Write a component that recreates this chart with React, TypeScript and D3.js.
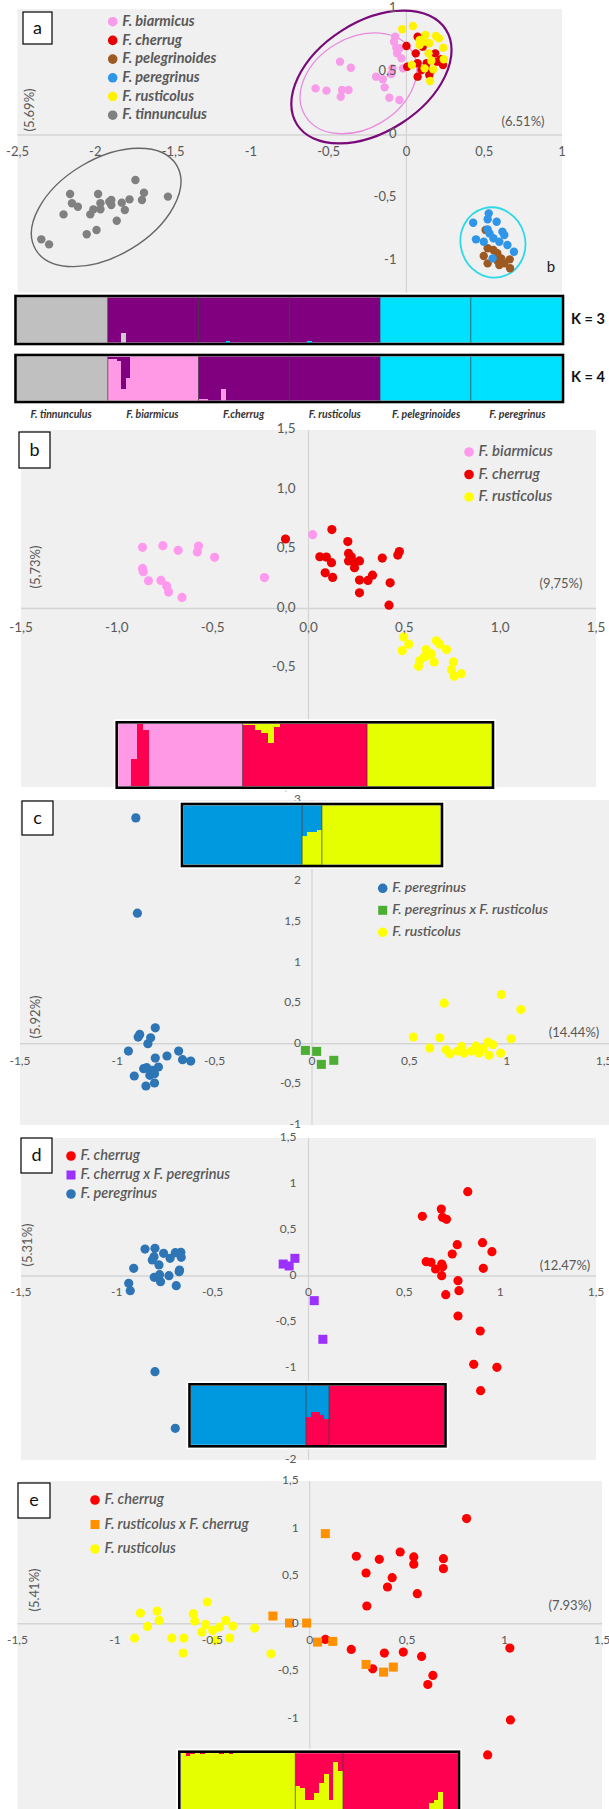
import React from "react";
import * as d3 from "d3";

type Pt = [number, number];

// ---------- panel a : six species ----------
const aBiarmicus: Pt[] = [
  [-0.072, 0.78], [-0.08, 0.74], [-0.065, 0.693], [-0.06, 0.648], [-0.045, 0.688], [-0.427, 0.582],
  [-0.357, 0.534], [-0.584, 0.37], [-0.514, 0.352], [-0.414, 0.357], [-0.372, 0.357], [-0.422, 0.304],
  [-0.195, 0.463], [-0.152, 0.442], [-0.097, 0.484], [-0.09, 0.529], [-0.14, 0.378], [-0.11, 0.296],
  [-0.045, 0.278], [-0.022, 0.529], [-0.032, 0.608],
];
const aCherrug: Pt[] = [
  [0, 0.706], [0.072, 0.78], [0.105, 0.701], [0.06, 0.648], [0.005, 0.542], [0.072, 0.569],
  [0.097, 0.516], [0.072, 0.463], [0.185, 0.648], [0.197, 0.582], [0.222, 0.601], [0.147, 0.476],
  [0.16, 0.511], [0.235, 0.556], [0.13, 0.569],
];
const aPelegrinoides: Pt[] = [
  [0.509, -0.754], [0.522, -0.899], [0.497, -0.96], [0.522, -1.019], [0.584, -0.939], [0.609, -0.979],
  [0.629, -1.019], [0.597, -1.032], [0.664, -0.987], [0.666, -1.058], [0.584, -0.997], [0.559, -0.913],
];
const aPeregrinus: Pt[] = [
  [0.529, -0.622], [0.522, -0.669], [0.58, -0.688], [0.429, -0.696], [0.522, -0.749], [0.617, -0.767],
  [0.629, -0.794], [0.447, -0.828], [0.497, -0.847], [0.559, -0.82], [0.597, -0.847], [0.649, -0.873],
  [0.691, -0.926], [0.554, -0.979], [0.534, -0.781],
];
const aRusticolus: Pt[] = [
  [0.042, 0.865], [-0.027, 0.839], [0.085, 0.754], [0.122, 0.794], [0.147, 0.728], [0.19, 0.786],
  [0.21, 0.767], [0.237, 0.693], [0.142, 0.648], [0.16, 0.59], [0.24, 0.601], [0.035, 0.556],
  [0.117, 0.529], [0.172, 0.521], [0.152, 0.429], [0.085, 0.714], [0.117, 0.741],
];
const aTinnunculus: Pt[] = [
  [-1.742, -0.357], [-1.687, -0.458], [-1.7, -0.516], [-1.533, -0.489], [-2.162, -0.468], [-2.15, -0.542],
  [-2.112, -0.569], [-2.204, -0.63], [-1.982, -0.468], [-1.967, -0.542], [-2.012, -0.59], [-2.032, -0.63],
  [-1.967, -0.59], [-1.897, -0.516], [-1.897, -0.556], [-1.83, -0.537], [-1.81, -0.595], [-1.78, -0.511],
  [-1.862, -0.68], [-1.992, -0.754], [-2.055, -0.788], [-2.347, -0.828], [-2.297, -0.868], [-1.91, -0.529],
];
// ellipses: centre, half extents (data units), tilt of major axis (deg)
const aEllipses = [
  { cx: -0.225, cy: 0.46, hx: 0.515, hy: 0.527, angle: 32.5, color: "#7a0a7a", width: 2.2 },
  { cx: -0.308, cy: 0.41, hx: 0.375, hy: 0.4, angle: 31, color: "#e88ae0", width: 1.3 },
  { cx: -1.93, cy: -0.575, hx: 0.48, hy: 0.47, angle: 31, color: "#666666", width: 1.4 },
  { cx: 0.556, cy: -0.853, hx: 0.209, hy: 0.279, angle: -75, color: "#2fd8e6", width: 1.8 },
];
const aXTicks = [-2.5, -2, -1.5, -1, -0.5, 0, 0.5, 1];
const aYTicks = [-1, -0.5, 0, 0.5, 1];
const barSpecies = ["F. tinnunculus", "F. biarmicus", "F.cherrug", "F. rusticolus", "F. pelegrinoides", "F. peregrinus"];

// ---------- panel b ----------
const bBiarmicus: Pt[] = [
  [-0.866, 0.514], [-0.76, 0.528], [-0.68, 0.489], [-0.574, 0.525], [-0.58, 0.475], [-0.49, 0.43],
  [-0.866, 0.337], [-0.862, 0.309], [-0.835, 0.233], [-0.77, 0.236], [-0.74, 0.19], [-0.73, 0.138],
  [-0.66, 0.093], [-0.23, 0.26], [0.022, 0.62],
];
const bCherrug: Pt[] = [
  [-0.12, 0.584], [0.122, 0.663], [0.059, 0.435], [0.093, 0.432], [0.12, 0.385], [0.087, 0.3],
  [0.126, 0.261], [0.205, 0.562], [0.209, 0.463], [0.223, 0.435], [0.209, 0.4], [0.24, 0.385],
  [0.266, 0.4], [0.24, 0.343], [0.266, 0.239], [0.31, 0.236], [0.334, 0.28], [0.266, 0.132],
  [0.385, 0.424], [0.426, 0.216], [0.42, 0.028], [0.466, 0.449], [0.474, 0.478],
];
const bRusticolus: Pt[] = [
  [0.497, -0.239], [0.523, -0.3], [0.489, -0.354], [0.58, -0.44], [0.574, -0.486], [0.614, -0.345],
  [0.62, -0.393], [0.655, -0.449], [0.667, -0.272], [0.685, -0.3], [0.72, -0.345], [0.756, -0.449],
  [0.746, -0.514], [0.76, -0.57], [0.797, -0.548], [0.604, -0.407], [0.64, -0.38],
];
const bTicks = [-1.5, -1, -0.5, 0, 0.5, 1, 1.5];

// ---------- panel c ----------
const cPeregrinus: Pt[] = [
  [-0.905, 2.78], [-0.897, 1.607], [-0.805, 0.196], [-0.885, 0.115], [-0.893, 0.082], [-0.829, 0.074],
  [-0.843, 0.0], [-0.943, -0.09], [-0.685, -0.09], [-0.745, -0.151], [-0.805, -0.176], [-0.665, -0.196],
  [-0.623, -0.213], [-0.849, -0.294], [-0.789, -0.286], [-0.819, -0.327], [-0.809, -0.368], [-0.833, -0.389],
  [-0.913, -0.397], [-0.809, -0.483], [-0.853, -0.52], [-0.865, -0.307],
];
const cHybrid: Pt[] = [[-0.034, -0.082], [0.024, -0.094], [0.048, -0.254], [0.112, -0.204]];
const cRusticolus: Pt[] = [
  [0.679, 0.499], [0.973, 0.605], [1.073, 0.421], [0.521, 0.082], [0.657, 0.074], [1.023, 0.061],
  [0.605, -0.053], [0.689, -0.074], [0.709, -0.123], [0.769, -0.033], [0.781, -0.115], [0.843, -0.029],
  [0.859, -0.115], [0.905, 0.02], [0.929, -0.012], [0.909, -0.143], [0.969, -0.115], [0.879, -0.061],
  [0.749, -0.09], [0.819, -0.09],
];
const cXTicks = [-1.5, -1, -0.5, 0, 0.5, 1, 1.5];
const cYTicks = [-1, -0.5, 0, 0.5, 1, 1.5, 2, 2.5, 3];

// ---------- panel d ----------
const dCherrug: Pt[] = [
  [0.831, 0.917], [0.594, 0.649], [0.693, 0.728], [0.699, 0.638], [0.72, 0.616], [0.776, 0.341],
  [0.75, 0.239], [0.908, 0.362], [0.957, 0.264], [0.614, 0.156], [0.639, 0.149], [0.695, 0.13],
  [0.663, 0.076], [0.695, 0.004], [0.912, 0.083], [0.78, -0.051], [0.785, -0.159], [0.716, -0.203],
  [0.78, -0.435], [0.896, -0.598], [0.862, -0.96], [0.983, -0.993], [0.898, -1.246], [0.7, 0.1],
];
const dHybrid: Pt[] = [[-0.132, 0.13], [-0.101, 0.109], [-0.071, 0.192], [0.03, -0.268], [0.075, -0.688]];
const dPeregrinus: Pt[] = [
  [-0.853, 0.293], [-0.801, 0.301], [-0.756, 0.246], [-0.806, 0.21], [-0.815, 0.174], [-0.78, 0.12],
  [-0.722, 0.192], [-0.695, 0.254], [-0.666, 0.257], [-0.664, 0.203], [-0.912, 0.083], [-0.673, 0.065],
  [-0.675, 0.047], [-0.805, -0.014], [-0.777, 0.014], [-0.728, 0.004], [-0.772, -0.062], [-0.938, -0.08],
  [-0.93, -0.159], [-0.69, -0.105], [-0.801, -1.04], [-0.695, -1.656],
];
const dYTicks = [-2, -1.5, -1, -0.5, 0, 0.5, 1, 1.5];

// ---------- panel e ----------
const eCherrug: Pt[] = [
  [0.805, 1.105], [0.239, 0.709], [0.357, 0.677], [0.464, 0.754], [0.534, 0.702], [0.534, 0.625],
  [0.686, 0.684], [0.686, 0.579], [0.289, 0.533], [0.423, 0.484], [0.399, 0.386], [0.552, 0.316],
  [0.293, 0.186], [0.08, -0.165], [0.213, -0.27], [0.383, -0.309], [0.48, -0.298], [0.574, -0.344],
  [0.323, -0.474], [0.632, -0.544], [0.606, -0.639], [1.027, -0.256], [1.03, -1.011], [0.913, -1.379],
];
const eHybrid: Pt[] = [
  [0.08, 0.947], [-0.189, 0.081], [-0.104, 0.007], [-0.016, 0.007], [0.04, -0.193], [0.118, -0.186],
  [0.289, -0.428], [0.379, -0.509], [0.429, -0.456],
];
const eRusticolus: Pt[] = [
  [-0.869, 0.112], [-0.783, 0.133], [-0.833, -0.028], [-0.773, 0.035], [-0.899, -0.151], [-0.708, -0.151],
  [-0.646, -0.151], [-0.65, -0.309], [-0.598, 0.105], [-0.59, 0.028], [-0.526, 0.228], [-0.534, -0.007],
  [-0.554, -0.088], [-0.498, -0.07], [-0.464, -0.035], [-0.431, 0.035], [-0.395, -0.025], [-0.411, -0.151],
  [-0.484, -0.175], [-0.283, -0.046], [-0.199, -0.316],
];
const eYTicks = [-1.5, -1, -0.5, 0, 0.5, 1, 1.5];

// ---------- structure (admixture) bars: share of second cluster per individual ----------
const k3Mix = { biarmicusGrey: [0, 0, 0, 0.22], cherrugCyan: [0, 0, 0, 0, 0, 0, 0.04], rusticolusCyan: [0, 0, 0, 0, 0.04] };
const k4Mix = { biarmicusPurple: [0.05, 0.05, 0.1, 0.74, 0.48, 0.02], cherrugPink: [0.03, 0.03, 0, 0, 0, 0.27] };
const bBarBiarmicusRed = [0, 0, 0.43, 0.99, 0.9];
const bBarCherrugYellow = [0.02, 0.02, 0.1, 0.14, 0.3, 0.05];
const cBarHybridYellow = [0.49, 0.55, 0.55, 0.58];
const dBarHybridRed = [0.47, 0.56, 0.56, 0.5, 0.44];
const eBarRusticolusRed = [0, 0.05, 0.02, 0, 0.02, 0, 0, 0, 0.02, 0, 0.02];
const eBarHybridYellow = [0.44, 0.41, 0.2, 0.2, 0.32, 0.49, 0.64, 0.2, 0.85, 0.7];
const eBarCherrugYellow = [0, 0, 0.05, 0.05, 0.06, 0.04, 0.05, 0.04, 0.05, 0.06, 0.05, 0.04, 0, 0, 0, 0, 0, 0.05, 0.15, 0.2, 0.35];

const FONT = "Lato, 'Open Sans', sans-serif";
const GREY_TXT = "#595959";

type Series = { name: string; color: string; shape: "circle" | "square"; pts: Pt[] };
type Group = { n: number; base: string; other?: string; mix?: number[]; fromTop?: boolean };
type BarSpec = { x: number; y: number; w: number; h: number; groups: Group[] };
type Ell = { cx: number; cy: number; hx: number; hy: number; angle: number; color: string; width: number };

const commaFmt = (v: number) => String(v).replace(".", ",");
const comma1Fmt = (v: number) => v.toFixed(1).replace(".", ",");

function StructureBar({ x, y, w, h, groups }: BarSpec) {
  const total = d3.sum(groups, (g) => g.n);
  const xs = d3.scaleLinear().domain([0, total]).range([x + 1.5, x + w - 1.5]);
  const ys = d3.scaleLinear().domain([0, 1]).range([y + h - 1.5, y + 1.5]);
  const bases: JSX.Element[] = [];
  const overlays: JSX.Element[] = [];
  const dividers: number[] = [];
  let k = 0;
  groups.forEach((g, gi) => {
    const g0 = xs(k);
    const g1 = xs(k + g.n);
    if (gi > 0) dividers.push(g0);
    bases.push(<rect key={`g${gi}`} x={g0} y={ys(1)} width={g1 - g0 + 0.3} height={ys(0) - ys(1)} fill={g.base} />);
    for (let i = 0; i < g.n; i++, k++) {
      const f = g.mix && g.mix[i] ? g.mix[i] : 0;
      if (f > 0 && g.other) {
        const x0 = xs(k);
        overlays.push(
          <rect
            key={`o${k}`}
            x={x0}
            y={g.fromTop ? ys(1) : ys(f)}
            width={xs(k + 1) - x0}
            height={ys(0) - ys(f)}
            fill={g.other}
          />
        );
      }
    }
  });
  return (
    <g>
      <rect x={x - 3} y={y - 3} width={w + 6} height={h + 6} fill="#ffffff" />
      {bases}
      <g shapeRendering="crispEdges">{overlays}</g>
      {dividers.map((d, i) => (
        <line key={i} x1={d} x2={d} y1={y + 1.5} y2={y + h - 1.5} stroke="#3a3a3a" strokeWidth={0.7} />
      ))}
      <rect x={x} y={y} width={w} height={h} fill="none" stroke="#000" strokeWidth={2.6} />
    </g>
  );
}

type PanelProps = {
  xDomain: [number, number]; xRange: [number, number];
  yDomain: [number, number]; yRange: [number, number];
  bgRight?: number;
  xTicks: number[]; yTicks: number[]; fmt: (v: number) => string;
  tickSize: number; xLabelDy: number; yLabelDx: number;
  series: Series[]; r: number;
  legend: { x: number; y: number; dy: number; size: number; weight: number };
  tag: { letter: string; x: number; y: number; w: number; h: number };
  yTitle: { text: string; x: number; y: number };
  xTitle: { text: string; x: number; y: number };
  ellipses?: Ell[];
  bars?: BarSpec[];
};

function Panel(p: PanelProps) {
  const x = d3.scaleLinear().domain(p.xDomain).range(p.xRange);
  const y = d3.scaleLinear().domain(p.yDomain).range(p.yRange);
  const left = p.xRange[0];
  const right = p.bgRight ?? p.xRange[1];
  const top = Math.min(...p.yRange);
  const bottom = Math.max(...p.yRange);
  // semi-axes of a tilted ellipse whose bounding box matches the half extents
  const axes = (e: Ell) => {
    const W = Math.abs(x(e.hx) - x(0));
    const H = Math.abs(y(e.hy) - y(0));
    const t = (e.angle * Math.PI) / 180;
    const c2 = Math.cos(t) ** 2;
    const s2 = Math.sin(t) ** 2;
    const a = Math.sqrt(Math.max(1, (W * W * c2 - H * H * s2) / (c2 - s2)));
    const b = Math.sqrt(Math.max(1, (H * H * c2 - W * W * s2) / (c2 - s2)));
    return { a, b };
  };
  const half = p.r * 0.98;
  return (
    <g fontFamily={FONT}>
      <rect x={left} y={top} width={right - left} height={bottom - top} fill="#f0f0f0" />
      <line x1={left} x2={right} y1={y(0)} y2={y(0)} stroke="#d4d4d4" strokeWidth={1.4} />
      <line x1={x(0)} x2={x(0)} y1={top} y2={bottom} stroke="#d4d4d4" strokeWidth={1.2} />
      {(p.ellipses || []).map((e, i) => {
        const { a, b } = axes(e);
        return (
          <ellipse
            key={i}
            transform={`translate(${x(e.cx)},${y(e.cy)}) rotate(${-e.angle})`}
            rx={a}
            ry={b}
            fill="none"
            stroke={e.color}
            strokeWidth={e.width}
          />
        );
      })}
      {p.series.map((s, si) => (
        <g key={si} fill={s.color}>
          {s.pts.map((d, i) =>
            s.shape === "circle" ? (
              <circle key={i} cx={x(d[0])} cy={y(d[1])} r={p.r} />
            ) : (
              <rect key={i} x={x(d[0]) - half} y={y(d[1]) - half} width={half * 2} height={half * 2} />
            )
          )}
        </g>
      ))}
      <g fill={GREY_TXT} fontSize={p.tickSize}>
        {p.xTicks.map((t) => (
          <text key={`x${t}`} x={x(t)} y={y(0) + p.xLabelDy} textAnchor="middle" dominantBaseline="middle">
            {p.fmt(t)}
          </text>
        ))}
        {p.yTicks.map((t) => (
          <text key={`y${t}`} x={x(0) - p.yLabelDx} y={y(t)} textAnchor="end" dominantBaseline="middle">
            {p.fmt(t)}
          </text>
        ))}
      </g>
      <g fontSize={p.legend.size} fontStyle="italic" fontWeight={p.legend.weight} fill={GREY_TXT}>
        {p.series.map((s, i) => {
          const ly = p.legend.y + i * p.legend.dy;
          return (
            <g key={i}>
              {s.shape === "circle" ? (
                <circle cx={p.legend.x} cy={ly} r={4.8} fill={s.color} />
              ) : (
                <rect x={p.legend.x - 4.5} y={ly - 4.5} width={9} height={9} fill={s.color} />
              )}
              <text x={p.legend.x + 9.5} y={ly + 0.5} dominantBaseline="middle">
                {s.name}
              </text>
            </g>
          );
        })}
      </g>
      <rect x={p.tag.x} y={p.tag.y} width={p.tag.w} height={p.tag.h} fill="#fff" stroke="#000" strokeWidth={1.2} />
      <text
        x={p.tag.x + p.tag.w / 2}
        y={p.tag.y + p.tag.h / 2 + 1}
        textAnchor="middle"
        dominantBaseline="middle"
        fontSize={18}
        fill="#111"
      >
        {p.tag.letter}
      </text>
      <text
        transform={`translate(${p.yTitle.x},${p.yTitle.y}) rotate(-90)`}
        textAnchor="middle"
        dominantBaseline="middle"
        fontSize={13}
        fill={GREY_TXT}
      >
        {p.yTitle.text}
      </text>
      <text x={p.xTitle.x} y={p.xTitle.y} textAnchor="middle" dominantBaseline="middle" fontSize={13} fill={GREY_TXT}>
        {p.xTitle.text}
      </text>
      {(p.bars || []).map((b, i) => (
        <StructureBar key={i} {...b} />
      ))}
    </g>
  );
}

const PINK = "#ff99e6";
const PURPLE = "#800080";
const CYAN = "#00e1ff";
const BAR_GREY = "#c0c0c0";
const BAR_RED = "#ff0050";
const BAR_YEL = "#e6ff00";
const BAR_BLUE = "#0098de";

export default function App() {
  const k3: Group[] = [
    { n: 20, base: BAR_GREY },
    { n: 20, base: PURPLE, other: "#cccccc", mix: k3Mix.biarmicusGrey },
    { n: 20, base: PURPLE, other: CYAN, mix: k3Mix.cherrugCyan },
    { n: 20, base: PURPLE, other: CYAN, mix: k3Mix.rusticolusCyan },
    { n: 20, base: CYAN },
    { n: 20, base: CYAN },
  ];
  const k4: Group[] = [
    { n: 20, base: BAR_GREY },
    { n: 20, base: PINK, other: PURPLE, mix: k4Mix.biarmicusPurple, fromTop: true },
    { n: 20, base: PURPLE, other: PINK, mix: k4Mix.cherrugPink },
    { n: 20, base: PURPLE },
    { n: 20, base: CYAN },
    { n: 20, base: CYAN },
  ];
  const k3Bar: BarSpec = { x: 15.5, y: 296, w: 547.5, h: 48, groups: k3 };
  const k4Bar: BarSpec = { x: 15.5, y: 355, w: 547.5, h: 47, groups: k4 };
  const groupScale = d3.scaleLinear().domain([0, barSpecies.length]).range([k4Bar.x, k4Bar.x + k4Bar.w]);

  return (
    <svg
      width={609}
      height={1809}
      style={{ position: "absolute", left: 0, top: 0, background: "#fff" }}
      fontFamily={FONT}
    >
      <rect x={0} y={0} width={609} height={1809} fill="#fff" />
      {/* panel a */}
      <Panel
        xDomain={[-2.5, 1]} xRange={[17.5, 562]}
        yDomain={[-1.25, 1]} yRange={[292.5, 9]}
        xTicks={aXTicks} yTicks={aYTicks} fmt={commaFmt}
        tickSize={13} xLabelDy={18} yLabelDx={10}
        r={4.2}
        series={[
          { name: "F. biarmicus", color: "#f79ce9", shape: "circle", pts: aBiarmicus },
          { name: "F. cherrug", color: "#e60000", shape: "circle", pts: aCherrug },
          { name: "F. pelegrinoides", color: "#9c5a22", shape: "circle", pts: aPelegrinoides },
          { name: "F. peregrinus", color: "#2f95e8", shape: "circle", pts: aPeregrinus },
          { name: "F. rusticolus", color: "#fff200", shape: "circle", pts: aRusticolus },
          { name: "F. tinnunculus", color: "#808080", shape: "circle", pts: aTinnunculus },
        ]}
        legend={{ x: 112.7, y: 21.7, dy: 18.7, size: 14.5, weight: 700 }}
        tag={{ letter: "a", x: 23, y: 12, w: 29, h: 32 }}
        yTitle={{ text: "(5.69%)", x: 31, y: 110 }}
        xTitle={{ text: "(6.51%)", x: 523, y: 123 }}
        ellipses={aEllipses}
        bars={[k3Bar, k4Bar]}
      />
      <text x={551} y={268} textAnchor="middle" dominantBaseline="middle" fontSize={15} fill="#222">
        b
      </text>
      <g fontSize={14.5} fontWeight={700} fill="#111">
        <text x={571} y={k3Bar.y + k3Bar.h / 2} dominantBaseline="middle">K = 3</text>
        <text x={571} y={k4Bar.y + k4Bar.h / 2} dominantBaseline="middle">K = 4</text>
      </g>
      <g fontSize={10.5} fontWeight={700} fontStyle="italic" fill="#333">
        {barSpecies.map((s, i) => (
          <text key={s} x={groupScale(i + 0.5)} y={415} textAnchor="middle" dominantBaseline="middle">
            {s}
          </text>
        ))}
      </g>

      {/* panel b */}
      <Panel
        xDomain={[-1.5, 1.5]} xRange={[21, 596]}
        yDomain={[-1.5, 1.5]} yRange={[787, 430]}
        xTicks={bTicks} yTicks={bTicks} fmt={comma1Fmt}
        tickSize={13.5} xLabelDy={20} yLabelDx={13}
        r={4.6}
        series={[
          { name: "F. biarmicus", color: "#ff99ee", shape: "circle", pts: bBiarmicus },
          { name: "F. cherrug", color: "#ee0000", shape: "circle", pts: bCherrug },
          { name: "F. rusticolus", color: "#ffff00", shape: "circle", pts: bRusticolus },
        ]}
        legend={{ x: 469, y: 452, dy: 22.5, size: 15, weight: 600 }}
        tag={{ letter: "b", x: 19, y: 432, w: 31, h: 36 }}
        yTitle={{ text: "(5,73%)", x: 37, y: 567 }}
        xTitle={{ text: "(9,75%)", x: 561, y: 585 }}
        bars={[
          {
            x: 116.7, y: 722.3, w: 376.3, h: 65.4,
            groups: [
              { n: 20, base: PINK, other: BAR_RED, mix: bBarBiarmicusRed },
              { n: 20, base: BAR_RED, other: BAR_YEL, mix: bBarCherrugYellow, fromTop: true },
              { n: 20, base: BAR_YEL },
            ],
          },
        ]}
      />

      {/* panel c */}
      <Panel
        xDomain={[-1.5, 1.5]} xRange={[20, 604]}
        yDomain={[-1, 3]} yRange={[1125, 800]}
        bgRight={609}
        xTicks={cXTicks} yTicks={cYTicks} fmt={commaFmt}
        tickSize={12} xLabelDy={18} yLabelDx={11}
        r={4.6}
        series={[
          { name: "F. peregrinus", color: "#2e75b6", shape: "circle", pts: cPeregrinus },
          { name: "F. peregrinus x F. rusticolus", color: "#4caf34", shape: "square", pts: cHybrid },
          { name: "F. rusticolus", color: "#ffff00", shape: "circle", pts: cRusticolus },
        ]}
        legend={{ x: 382.7, y: 888.3, dy: 22, size: 14, weight: 600 }}
        tag={{ letter: "c", x: 22, y: 801, w: 31, h: 34 }}
        yTitle={{ text: "(5.92%)", x: 37, y: 1017 }}
        xTitle={{ text: "(14.44%)", x: 574, y: 1034 }}
        bars={[
          {
            x: 182, y: 804, w: 260, h: 62,
            groups: [
              { n: 24, base: BAR_BLUE },
              { n: 4, base: BAR_BLUE, other: BAR_YEL, mix: cBarHybridYellow },
              { n: 24, base: BAR_YEL },
            ],
          },
        ]}
      />

      {/* panel d */}
      <Panel
        xDomain={[-1.5, 1.5]} xRange={[21, 596]}
        yDomain={[-2, 1.5]} yRange={[1460, 1138]}
        xTicks={cXTicks} yTicks={dYTicks} fmt={commaFmt}
        tickSize={12} xLabelDy={17} yLabelDx={12}
        r={4.6}
        series={[
          { name: "F. cherrug", color: "#ff0000", shape: "circle", pts: dCherrug },
          { name: "F. cherrug x F. peregrinus", color: "#9b30ff", shape: "square", pts: dHybrid },
          { name: "F. peregrinus", color: "#2e75b6", shape: "circle", pts: dPeregrinus },
        ]}
        legend={{ x: 71, y: 1156, dy: 19, size: 14.5, weight: 600 }}
        tag={{ letter: "d", x: 21, y: 1138, w: 31, h: 35 }}
        yTitle={{ text: "(5.31%)", x: 29, y: 1245 }}
        xTitle={{ text: "(12.47%)", x: 565, y: 1267 }}
        bars={[
          {
            x: 189.5, y: 1384.3, w: 256, h: 62,
            groups: [
              { n: 25, base: BAR_BLUE },
              { n: 5, base: BAR_BLUE, other: BAR_RED, mix: dBarHybridRed },
              { n: 25, base: BAR_RED },
            ],
          },
        ]}
      />

      {/* panel e */}
      <Panel
        xDomain={[-1.5, 1.5]} xRange={[17.5, 602]}
        yDomain={[-2, 1.5]} yRange={[1814, 1481]}
        xTicks={cXTicks} yTicks={eYTicks} fmt={commaFmt}
        tickSize={12} xLabelDy={17} yLabelDx={11}
        r={4.6}
        series={[
          { name: "F. cherrug", color: "#ff0000", shape: "circle", pts: eCherrug },
          { name: "F. rusticolus x F. cherrug", color: "#ff9000", shape: "square", pts: eHybrid },
          { name: "F. rusticolus", color: "#ffff00", shape: "circle", pts: eRusticolus },
        ]}
        legend={{ x: 95, y: 1500, dy: 24.5, size: 14.5, weight: 600 }}
        tag={{ letter: "e", x: 18, y: 1483, w: 32, h: 35 }}
        yTitle={{ text: "(5.41%)", x: 36, y: 1590 }}
        xTitle={{ text: "(7.93%)", x: 570, y: 1607 }}
        bars={[
          {
            x: 179.3, y: 1751.7, w: 279.7, h: 62,
            groups: [
              { n: 24, base: BAR_YEL, other: BAR_RED, mix: eBarRusticolusRed, fromTop: true },
              { n: 10, base: BAR_RED, other: BAR_YEL, mix: eBarHybridYellow },
              { n: 24, base: BAR_RED, other: BAR_YEL, mix: eBarCherrugYellow },
            ],
          },
        ]}
      />
    </svg>
  );
}
